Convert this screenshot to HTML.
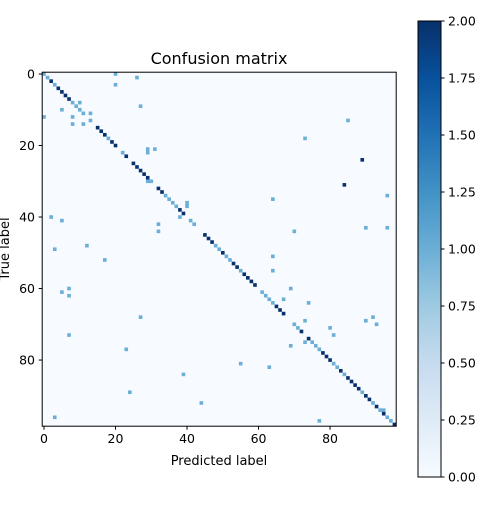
<!DOCTYPE html>
<html><head><meta charset="utf-8"><style>
body{margin:0;background:#fff;}
svg{font-family:"DejaVu Sans","Liberation Sans",sans-serif;}
</style></head><body>
<svg id="chart" width="500" height="500" viewBox="0 0 500 500">
<defs><linearGradient id="cb" x1="0" y1="1" x2="0" y2="0">
<stop offset="0" stop-color="#f7fbff"/><stop offset="0.125" stop-color="#deebf7"/><stop offset="0.25" stop-color="#c6dbef"/><stop offset="0.375" stop-color="#9ecae1"/><stop offset="0.5" stop-color="#6baed6"/><stop offset="0.625" stop-color="#4292c6"/><stop offset="0.75" stop-color="#2171b5"/><stop offset="0.875" stop-color="#08519c"/><stop offset="1" stop-color="#08306b"/></linearGradient></defs>
<text x="219" y="64" font-size="16" text-anchor="middle">Confusion matrix</text>
<g id="cells"></g>
<rect x="42.2" y="72.2" width="354" height="354" fill="none" stroke="#000" stroke-width="1"/>
<g id="axes"></g>
<text x="219" y="465" font-size="13" text-anchor="middle">Predicted label</text>
<text transform="translate(9,249) rotate(-90)" font-size="13" text-anchor="middle">True label</text>
<rect x="418" y="21" width="23" height="456" fill="url(#cb)" stroke="#000" stroke-width="1"/>
<g id="cbticks"></g>
</svg>
<script>
const N = 99;
const diagValues = [1,1,2,1,2,2,2,2,1,1,1,1,0,1,0,2,2,2,1,2,2,0,1,2,0,2,2,2,2,2,1,0,2,2,1,1,1,1,2,2,0,1,1,0,0,2,2,2,1,1,2,1,1,2,2,1,2,2,2,2,0,1,1,1,1,2,2,2,0,0,1,1,2,0,2,1,1,1,2,2,2,1,1,2,1,2,2,2,2,1,2,2,1,2,1,2,1,1,2];
const offRows = [0,1,3,8,9,10,11,12,12,13,14,14,18,21,21,22,24,30,31,34,35,36,37,40,40,41,42,43,43,44,44,48,49,51,52,55,60,60,61,62,63,64,68,68,69,69,70,71,73,73,75,76,77,81,82,84,89,92,94,96,97];
const offCols = [20,26,20,10,27,5,13,0,8,85,8,11,73,29,31,29,89,29,84,96,64,40,40,2,38,5,32,90,96,32,70,12,3,64,17,64,7,69,5,7,67,74,27,92,73,90,93,80,7,81,73,69,23,55,63,39,24,44,95,3,77];
const offValues = [1,1,1,1,1,1,1,1,1,1,1,1,1,1,1,1,2,1,2,1,1,1,1,1,1,1,1,1,1,1,1,1,1,1,1,1,1,1,1,1,1,1,1,1,1,1,1,1,1,1,1,1,1,1,1,1,1,1,1,1,1];
const xTicks = [0,20,40,60,80];
const yTicks = [0,20,40,60,80];
const cbTicks = [0,0.25,0.5,0.75,1,1.25,1.5,1.75,2];
const cbLabels = ["0.00","0.25","0.50","0.75","1.00","1.25","1.50","1.75","2.00"];

const X0=42.2, Y0=72.2, S=354/N;
const xPos = i => X0 + i*S;
const yPos = i => Y0 + i*S;
const colors = ["#f7fbff","#6baed6","#08306b"];
const ns="http://www.w3.org/2000/svg";
const M = Array.from({length:N},()=>new Array(N).fill(0));
diagValues.forEach((v,i)=>{M[i][i]=v;});
offRows.forEach((r,k)=>{M[r][offCols[k]]+=offValues[k];});
const cells=document.getElementById('cells');
const bg=document.createElementNS(ns,'rect');
bg.setAttribute('x',X0);bg.setAttribute('y',Y0);bg.setAttribute('width',354);bg.setAttribute('height',354);bg.setAttribute('fill',colors[0]);


cells.appendChild(bg);
for(let r=0;r<N;r++)for(let c=0;c<N;c++){
  const v=M[r][c]; if(!v) continue;
  const e=document.createElementNS(ns,'rect');
  e.setAttribute('x',xPos(c));e.setAttribute('y',yPos(r));
  e.setAttribute('width',S+0.05);e.setAttribute('height',S+0.05);
  e.setAttribute('fill',colors[Math.min(v,2)]);
  
  
  cells.appendChild(e);
}
const axes=document.getElementById('axes');
function line(x1,y1,x2,y2){const l=document.createElementNS(ns,'line');l.setAttribute('x1',x1);l.setAttribute('y1',y1);l.setAttribute('x2',x2);l.setAttribute('y2',y2);l.setAttribute('stroke','#000');return l;}
function text(x,y,s,anchor){const t=document.createElementNS(ns,'text');t.setAttribute('x',x);t.setAttribute('y',y);t.setAttribute('font-size','12.5');t.setAttribute('text-anchor',anchor);t.textContent=s;return t;}
xTicks.forEach(v=>{const x=xPos(v+0.5);
  const l=line(x,426.2,x,429.7);
  
  
  axes.appendChild(l);
  const t=text(x,443,String(v),'middle');
  
  
  axes.appendChild(t);});
yTicks.forEach(v=>{const y=yPos(v+0.5);
  const l=line(38.7,y,42.2,y);
  
  
  axes.appendChild(l);
  const t=text(35,y+4.5,String(v),'end');
  
  
  axes.appendChild(t);});
const cbt=document.getElementById('cbticks');
cbTicks.forEach((v,k)=>{const y=477-(v/2)*456;
  const l=line(441,y,444.5,y);
  
  
  cbt.appendChild(l);
  const t=text(448,y+4.5,cbLabels[k],'start');
  
  
  cbt.appendChild(t);});
</script>
</body></html>
